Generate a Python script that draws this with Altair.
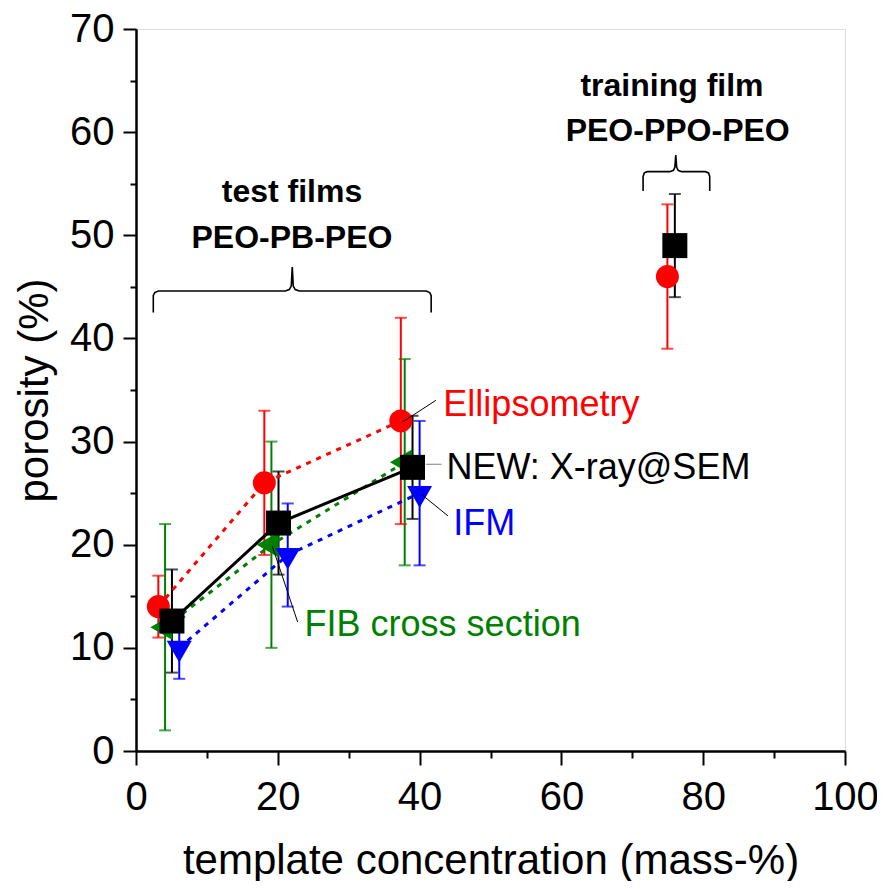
import altair as alt
import pandas as pd

FONT = "Liberation Sans"

methods = ["Ellipsometry", "FIB cross section", "IFM", "X-ray@SEM"]
method_colors = ["#ff0000", "#008000", "#0000ff", "#000000"]

# Ellipsometry (red circles)
ell_x = [3.15, 18.1, 37.35, 74.95]
ell_y = [14.0, 26.0, 32.0, 46.0]
ell_lo = [11.0, 19.0, 22.0, 39.0]
ell_hi = [17.0, 33.0, 42.0, 53.0]
ell_film = ["test", "test", "test", "training"]

# FIB cross section (green left triangles)
fib_x = [4.1, 19.1, 37.9]
fib_y = [12.0, 20.0, 28.0]
fib_lo = [2.0, 10.0, 18.0]
fib_hi = [22.0, 30.0, 38.0]
fib_film = ["test", "test", "test"]

# IFM (blue down triangles)
ifm_x = [6.1, 21.4, 40.0]
ifm_y = [10.0, 19.0, 25.0]
ifm_lo = [7.0, 14.0, 18.0]
ifm_hi = [13.0, 24.0, 32.0]
ifm_film = ["test", "test", "test"]

# NEW: X-ray@SEM (black squares)
sem_x = [5.07, 20.1, 39.0, 76.0]
sem_y = [12.6, 22.1, 27.5, 49.0]
sem_lo = [7.6, 17.1, 22.5, 44.0]
sem_hi = [17.6, 27.1, 32.5, 54.0]
sem_film = ["test", "test", "test", "training"]

# annotation labels
lab_text = ["Ellipsometry", "NEW: X-ray@SEM", "IFM", "FIB cross section"]
lab_x = [43.35, 43.79, 44.73, 23.78]
lab_y = [32.5, 26.38, 20.95, 11.15]
lab_color = ["#ff0000", "#000000", "#0000ff", "#008000"]

# leader lines
lead_x = [42.3, 40.9, 44.0, 22.8]
lead_y = [34.0, 27.8, 22.8, 12.5]
lead_x2 = [37.6, 43.1, 40.4, 19.2]
lead_y2 = [31.9, 27.8, 24.8, 19.9]
lead_color = ["#000000", "#808080", "#000000", "#000000"]

# group headings
head_text = ["test films", "PEO-PB-PEO", "training film", "PEO-PPO-PEO"]
head_x = [22.0, 22.0, 75.6, 76.4]
head_y = [53.2, 48.8, 63.46, 59.1]

# curly braces
brace1_x = [2.44, 2.44, 2.65, 3.14, 21.05, 21.61, 21.90, 22.04, 22.18, 22.46, 23.03, 40.93, 41.42, 41.63, 41.63]
brace1_y = [42.52, 44.17, 44.45, 44.60, 44.60, 44.74, 45.08, 46.93, 45.08, 44.74, 44.60, 44.60, 44.45, 44.17, 42.52]
brace2_x = [71.52, 71.52, 71.70, 72.10, 75.30, 75.80, 76.00, 76.13, 76.26, 76.46, 76.96, 80.30, 80.75, 80.92, 80.92]
brace2_y = [54.29, 55.70, 56.05, 56.17, 56.17, 56.30, 56.60, 57.79, 56.60, 56.30, 56.17, 56.17, 56.05, 55.70, 54.29]

x_major_vals = [0, 20, 40, 60, 80, 100]
x_minor_vals = [10, 30, 50, 70, 90]
y_major_vals = [0, 10, 20, 30, 40, 50, 60, 70]
y_minor_vals = [5, 15, 25, 35, 45, 55, 65]

# ---------- tables ----------
rows = []
for m, xs, ys, los, his, fs in [
    ("Ellipsometry", ell_x, ell_y, ell_lo, ell_hi, ell_film),
    ("FIB cross section", fib_x, fib_y, fib_lo, fib_hi, fib_film),
    ("IFM", ifm_x, ifm_y, ifm_lo, ifm_hi, ifm_film),
    ("X-ray@SEM", sem_x, sem_y, sem_lo, sem_hi, sem_film),
]:
    for i in range(len(xs)):
        rows.append({"method": m, "x": xs[i], "y": ys[i], "lo": los[i], "hi": his[i], "film": fs[i]})
df = pd.DataFrame(rows)
df_test = df[df["film"] == "test"]

labels = pd.DataFrame({"text": lab_text, "x": lab_x, "y": lab_y, "color": lab_color})
leads = pd.DataFrame({"x": lead_x, "y": lead_y, "x2": lead_x2, "y2": lead_y2, "color": lead_color})
heads = pd.DataFrame({"text": head_text, "x": head_x, "y": head_y})
braces = pd.DataFrame({
    "x": brace1_x + brace2_x,
    "y": brace1_y + brace2_y,
    "brace": ["test"] * len(brace1_x) + ["training"] * len(brace2_x),
    "order": list(range(len(brace1_x))) + list(range(len(brace2_x))),
})

xs_scale = alt.Scale(domain=[0, 100], nice=False, zero=False)
ys_scale = alt.Scale(domain=[0, 70], nice=False, zero=False)
color_scale = alt.Scale(domain=methods, range=method_colors)

common_axis = dict(domainWidth=2, domainColor="black", tickWidth=2, tickColor="black",
                   grid=False, labelFont=FONT, labelColor="black", labelFlush=False,
                   labelOverlap=False, titleFont=FONT, titleColor="black")

x_major = alt.Axis(orient="bottom", values=x_major_vals, tickSize=14, labelFontSize=40,
                   labelPadding=12, title="template concentration (mass-%)", titleFontSize=42,
                   titleFontWeight="normal", titleBaseline="alphabetic", titleY=122,
                   **common_axis)
x_minor = alt.Axis(orient="bottom", values=x_minor_vals, tickSize=7, labels=False,
                   title=None, **common_axis)
y_major = alt.Axis(orient="left", values=y_major_vals, tickSize=13, labelFontSize=40,
                   labelPadding=9, title="porosity (%)", titleFontSize=42,
                   titleFontWeight="normal", titleBaseline="alphabetic", titleX=-89,
                   titleAlign="center", **common_axis)
y_minor = alt.Axis(orient="left", values=y_minor_vals, tickSize=6, labels=False,
                   title=None, **common_axis)


def X(field="x", axis=None):
    return alt.X(f"{field}:Q", scale=xs_scale, axis=axis)


def Y(field="y", axis=None):
    return alt.Y(f"{field}:Q", scale=ys_scale, axis=axis)


col = alt.Color("method:N", scale=color_scale, legend=None)

err_rules = alt.Chart(df).mark_rule(strokeWidth=2).encode(
    x=X(axis=x_minor), y=Y("lo", axis=y_minor), y2="hi:Q", color=col)
cap_lo = alt.Chart(df).mark_tick(orient="horizontal", size=12, thickness=2).encode(
    x=X(), y=Y("lo"), color=col)
cap_hi = alt.Chart(df).mark_tick(orient="horizontal", size=12, thickness=2).encode(
    x=X(), y=Y("hi"), color=col)

dotted = alt.Chart(df_test[df_test["method"] != "X-ray@SEM"]).mark_line(
    strokeWidth=3, strokeDash=[5, 6]).encode(x=X(), y=Y(), color=col, detail="method:N")
solid = alt.Chart(df_test[df_test["method"] == "X-ray@SEM"]).mark_line(
    strokeWidth=3).encode(x=X(), y=Y(), color=col)

green_pts = alt.Chart(df[df["method"] == "FIB cross section"]).mark_point(
    shape="triangle-left", filled=True, size=650, opacity=1, strokeWidth=0, xOffset=-3.7
).encode(x=X(), y=Y(), color=col)
red_pts = alt.Chart(df[df["method"] == "Ellipsometry"]).mark_point(
    shape="circle", filled=True, size=530, opacity=1, strokeWidth=0
).encode(x=X(), y=Y(), color=col)
blue_pts = alt.Chart(df[df["method"] == "IFM"]).mark_point(
    shape="triangle-down", filled=True, size=625, opacity=1, strokeWidth=0, yOffset=3.7
).encode(x=X(), y=Y(), color=col)
black_pts = alt.Chart(df[df["method"] == "X-ray@SEM"]).mark_point(
    shape="square", filled=True, size=625, opacity=1, strokeWidth=0
).encode(x=X(axis=x_major), y=Y(axis=y_major), color=col)

lead_lines = alt.Chart(leads).mark_rule(strokeWidth=1).encode(
    x=X(), y=Y(), x2="x2:Q", y2="y2:Q", color=alt.Color("color:N", scale=None))

label_text = alt.Chart(labels).mark_text(
    align="left", baseline="alphabetic", font=FONT, fontSize=36
).encode(x=X(), y=Y(), text="text:N", color=alt.Color("color:N", scale=None))

head_text_layer = alt.Chart(heads).mark_text(
    align="center", baseline="alphabetic", font=FONT, fontSize=32, fontWeight="bold", color="black"
).encode(x=X(), y=Y(), text="text:N")

brace_lines = alt.Chart(braces).mark_line(strokeWidth=1.6, color="black").encode(
    x=X(), y=Y(), detail="brace:N", order="order:Q")

chart = alt.layer(
    err_rules, cap_lo, cap_hi, dotted, solid,
    green_pts, red_pts, blue_pts, black_pts,
    lead_lines, label_text, head_text_layer, brace_lines,
).resolve_axis(x="independent", y="independent").properties(
    width=709, height=722,
    autosize=alt.AutoSizeParams(type="none"),
    padding={"left": 128, "top": 21, "right": 32, "bottom": 130},
).configure_view(stroke="black", strokeWidth=2).configure(background="white")

chart.save("out.html", embed_options={"renderer": "svg", "actions": False})
